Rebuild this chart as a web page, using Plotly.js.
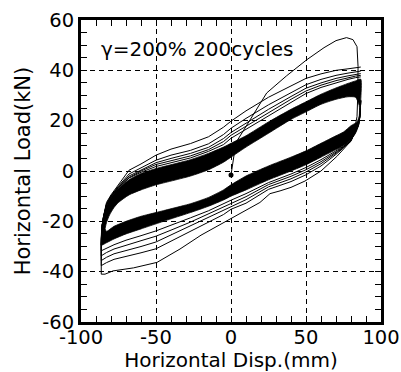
<!DOCTYPE html>
<html>
<head>
<meta charset="utf-8">
<script src="https://cdn.plot.ly/plotly-3.0.1.min.js"></script>
<style>html,body{margin:0;padding:0;background:#fff;}#chart{width:401px;height:372px;}</style>
</head>
<body>
<div id="chart"></div>
<script>
// ---- data ----
// first loading path from the origin
const initX = [0, 3.3, 10, 23.8, 37, 50.5, 62, 70, 77, 81.3, 84, 84.7, 84.5];
const initY = [-1.6, 11.3, 17.7, 31, 37.8, 44.2, 49, 51.8, 53, 52.2, 49.4, 41.5, 30];
// first unloading branch (lowest line)
const c1LowX = [84, 82, 79, 70.6, 60, 49.3, 40, 32.7, 26, 19.3, 0, -20, -34, -49.3, -65, -78.7, -84, -86.5];
const c1LowY = [21.6, 15.5, 11.3, 5.8, 0, -4, -6.5, -7.9, -9, -12.5, -19, -25.5, -31, -36.3, -38.5, -39.7, -41, -41];

// loading branches (left -> right)
const upX  = [-86.5, -86.5, -86, -85, -83, -80, -75, -68, -60, -50, -40, -27, -15, -5, 0, 10, 25, 40, 50, 60, 70, 78, 83, 86.5];
const c1Up = [-41, -30, -22, -18, -12.5, -9.5, -5.5, 0.3, 2.8, 6.3, 8.7, 10.9, 13.6, 17.4, 19.8, 23.9, 29.3, 33.8, 36.8, 38.6, 40, 40.6, 41, 41.3];
const c2Up = [-37.6, -28.5, -22, -18.2, -13, -9.8, -6, -1.2, 1.2, 4.3, 6.3, 8.2, 10.8, 14.5, 17, 20.9, 26.3, 31.1, 34.3, 36.4, 38, 38.9, 39.4, 39.7];
const c3Up = [-35.6, -28, -22, -18.2, -13.3, -10, -6.3, -2, 0.4, 3.3, 5, 7, 9.4, 12.9, 15.3, 19.1, 24.5, 29.6, 32.9, 35, 36.8, 37.8, 38.4, 38.7];
const c4Up = [-33.7, -27.5, -22, -18.3, -13.5, -10.2, -6.5, -2.6, 0, 2.6, 4, 6, 8.5, 11.7, 14.2, 17.8, 23.3, 28.5, 31.8, 34.1, 35.9, 37.1, 37.7, 38];
const c5Up = [-31.7, -27, -22, -18.4, -13.7, -10.3, -6.7, -2.8, -0.5, 1.8, 3.2, 5.2, 7.8, 10.5, 13, 16.6, 22.1, 27.4, 30.8, 33.2, 35.1, 36.4, 37.1, 37.4];
const bandUpOuter = [-29.5, -26, -22, -18.5, -14, -10.5, -7, -3.5, -1, 1, 2.5, 4.5, 7, 9.5, 11, 14, 19.5, 24.5, 27.5, 30.5, 33, 34.8, 35.8, 36.5];

// unloading branches (right -> left)
const lowX  = [86.5, 86, 85, 83, 80, 75, 70, 60, 50, 40, 25, 10, 0, -5, -15, -27, -40, -50, -60, -70, -78, -83, -86.5];
const c2Low = [28, 22, 18.5, 16.5, 11.8, 9.2, 6.6, 2, -1.5, -4.2, -7.3, -12.8, -15.2, -17.3, -20.3, -24, -28, -30.9, -32.5, -34, -35.1, -36.4, -37.6];
const c3Low = [28, 22, 18.4, 16, 12, 9.4, 7.1, 2.9, -0.4, -3.1, -6.3, -11.4, -14.2, -15.8, -18.7, -22, -25.6, -28.2, -30, -31.6, -32.9, -34.3, -35.6];
const c4Low = [28, 22, 18.3, 15.7, 12.2, 9.6, 7.5, 3.7, 0.5, -2.1, -5.4, -10.2, -12.9, -14.4, -17.2, -20.3, -23.5, -25.9, -27.7, -29.5, -31, -32.4, -33.7];
const c5Low = [28, 22, 18.2, 15.3, 12.4, 9.8, 8, 4.5, 1.4, -1.2, -4.6, -9, -11.6, -13.1, -15.8, -18.6, -21.5, -23.8, -25.7, -27.5, -29.3, -30.7, -31.7];
const bandLowOuter = [28, 22, 18, 15, 12.5, 10, 8.5, 5.5, 2.5, 0, -3.5, -7.5, -10, -11.5, -14, -16.5, -19, -21, -23, -25, -27, -28.5, -29.5];

// inner edge of the dense band of later cycles
const innerUpX = [-84, -83, -81, -78, -75, -68, -60, -50, -40, -27, -15, -5, 0, 10, 25, 40, 50, 60, 70, 78, 83, 85.5];
const innerUpY = [-23, -20.5, -17.5, -14.5, -12.5, -9.5, -7.5, -5.5, -4, -2, 0.5, 3.5, 5.5, 9.5, 15, 20.5, 23.5, 26.5, 28.5, 29.5, 29.3, 26];
const innerLowX = [85.5, 84, 80, 75, 70, 60, 50, 40, 25, 10, 0, -5, -15, -27, -40, -50, -60, -70, -78, -83, -84];
const innerLowY = [22, 19.5, 18, 15.5, 14, 11, 8, 5.5, 2, -2, -5.5, -7.5, -10.5, -13, -15, -16.5, -18, -20, -22, -24, -23];

const xTickVals = [-100, -50, 0, 50, 100];
const yTickVals = [-60, -40, -20, 0, 20, 40, 60];
const labelText = 'γ=200% 200cycles';

// ---- traces ----
const lineStyle = {color: '#000', width: 1};
const rev = a => a.slice().reverse();
const traces = [];
// dense band of the later cycles, drawn as a filled ring (outer loop, then inner loop reversed)
traces.push({
  type: 'scatter', mode: 'lines', fill: 'toself', fillcolor: '#000',
  x: upX.concat(lowX, rev(innerLowX), rev(innerUpX)),
  y: bandUpOuter.concat(bandLowOuter, rev(innerLowY), rev(innerUpY)),
  line: {color: '#000', width: 0.8, shape: 'spline', smoothing: 0.6}, hoverinfo: 'skip'
});
// first cycle
traces.push({type: 'scatter', mode: 'lines', x: initX.concat(c1LowX, upX), y: initY.concat(c1LowY, c1Up), line: lineStyle});
// early cycles
[[c2Low, c2Up], [c3Low, c3Up], [c4Low, c4Up], [c5Low, c5Up]].forEach(([lo, up]) => {
  traces.push({type: 'scatter', mode: 'lines', x: lowX.concat(upX), y: lo.concat(up), line: lineStyle});
});
// start point
traces.push({type: 'scatter', mode: 'markers', x: [initX[0]], y: [initY[0]], marker: {color: '#000', size: 5}});

const font = 'DejaVu Sans, Liberation Sans, Arial, sans-serif';
const axisCommon = {
  ticks: 'inside', ticklen: 6, tickwidth: 1, tickcolor: '#000',
  showline: true, linewidth: 3, linecolor: '#000', mirror: 'allticks',
  showgrid: true, gridcolor: '#000', gridwidth: 1, griddash: '5px,4px',
  zeroline: false, tickfont: {family: font, size: 19.5, color: '#000'},
  tickmode: 'array'
};
const layout = {
  width: 401, height: 372,
  margin: {l: 81, r: 20, t: 20, b: 50},
  paper_bgcolor: '#fff', plot_bgcolor: '#fff',
  showlegend: false,
  xaxis: Object.assign({}, axisCommon, {
    range: [-100, 100], tickvals: xTickVals, ticktext: xTickVals.map(String),
    ticklabelstandoff: -4,
    minor: {dtick: 10, tick0: 0, ticks: 'inside', ticklen: 6, tickcolor: '#000', showgrid: false},
    title: {text: 'Horizontal Disp.(mm)', font: {family: font, size: 20, color: '#000'}, standoff: 2}
  }),
  yaxis: Object.assign({}, axisCommon, {
    range: [-60, 60], tickvals: yTickVals, ticktext: yTickVals.map(String),
    minor: {dtick: 5, tick0: 0, ticks: 'inside', ticklen: 6, tickcolor: '#000', showgrid: false},
    title: {text: 'Horizontal Load(kN)', font: {family: font, size: 21, color: '#000'}, standoff: 6}
  }),
  annotations: [{
    x: -88, y: 48.5, xref: 'x', yref: 'y', xanchor: 'left', yanchor: 'middle',
    text: labelText, showarrow: false, font: {family: font, size: 20, color: '#000'}
  }]
};
Plotly.newPlot('chart', traces, layout, {staticPlot: true, displayModeBar: false});
</script>
</body>
</html>
